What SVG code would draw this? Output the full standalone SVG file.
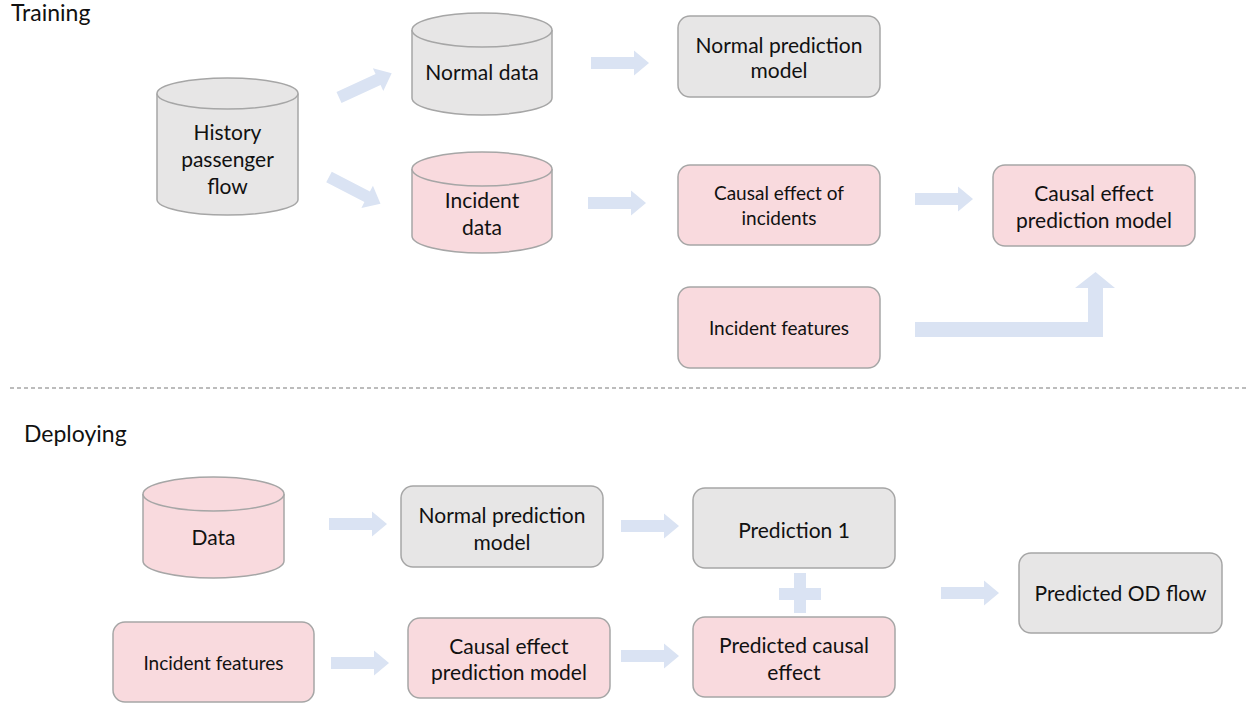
<svg xmlns="http://www.w3.org/2000/svg" xmlns:xlink="http://www.w3.org/1999/xlink" width="1246" height="704" viewBox="0 0 1246 704">
<style>
text{font-family:Lato,"Liberation Sans",sans-serif;fill:#111;text-anchor:middle}
.big{font-size:21px}
.sm{font-size:19px}
.title{font-size:23px;text-anchor:start}
.g{fill:#e7e6e6;stroke:#a6a6a6;stroke-width:1.5}
.p{fill:#f9dade;stroke:#a6a6a6;stroke-width:1.5}
.arr{fill:#dae3f3}
</style>
<defs>
<path id="a" d="M0,-6 H43 V-12.5 L58,0 L43,12.5 V6 H0 Z"/>
</defs>
<rect width="1246" height="704" fill="#fff"/>
<text class="title" x="11" y="21">Training</text>
<text class="title" x="24" y="442">Deploying</text>
<line x1="10" y1="388" x2="1246" y2="388" stroke="#a6a6a6" stroke-width="1.3" stroke-dasharray="4 3"/>

<g id="history">
<path class="g" d="M157,93.5 V199.5 A70.5,15.5 0 0 0 298,199.5 V93.5"/>
<ellipse class="g" cx="227.5" cy="93.5" rx="70.5" ry="15.5"/>
<text class="big" x="227.5" y="140">History</text>
<text class="big" x="227.5" y="167">passenger</text>
<text class="big" x="227.5" y="194">flow</text>
</g>
<g id="normal-data">
<path class="g" d="M412,30 V98 A70,17 0 0 0 552,98 V30"/>
<ellipse class="g" cx="482" cy="30" rx="70" ry="17"/>
<text class="big" x="482" y="79.5">Normal data</text>
</g>
<g id="incident-data">
<path class="p" d="M412,169 V236 A70,17 0 0 0 552,236 V169"/>
<ellipse class="p" cx="482" cy="169" rx="70" ry="17"/>
<text class="big" x="482" y="207.5">Incident</text>
<text class="big" x="482" y="234.5">data</text>
</g>
<g id="normal-model-train">
<rect class="g" x="678" y="16" width="202" height="81" rx="12"/>
<text class="big" x="779" y="52.5">Normal prediction</text>
<text class="big" x="779" y="77.5">model</text>
</g>
<g id="causal-effect-incidents">
<rect class="p" x="678" y="165" width="202" height="80" rx="12"/>
<text class="sm" x="779" y="200">Causal effect of</text>
<text class="sm" x="779" y="225">incidents</text>
</g>
<g id="causal-model-train">
<rect class="p" x="993" y="165" width="202" height="81" rx="12"/>
<text class="big" x="1094" y="200.5">Causal effect</text>
<text class="big" x="1094" y="227.5">prediction model</text>
</g>
<g id="incident-features-train">
<rect class="p" x="678" y="287" width="202" height="81" rx="12"/>
<text class="sm" x="779" y="335">Incident features</text>
</g>

<g id="data">
<path class="p" d="M143,494 V561 A70.5,17 0 0 0 284,561 V494"/>
<ellipse class="p" cx="213.5" cy="494" rx="70.5" ry="17"/>
<text class="big" x="213.5" y="544.5">Data</text>
</g>
<g id="incident-features-deploy">
<rect class="p" x="113" y="622" width="201" height="80" rx="12"/>
<text class="sm" x="213.5" y="670">Incident features</text>
</g>
<g id="normal-model-deploy">
<rect class="g" x="401" y="486" width="202" height="81" rx="12"/>
<text class="big" x="502" y="522.5">Normal prediction</text>
<text class="big" x="502" y="549.5">model</text>
</g>
<g id="causal-model-deploy">
<rect class="p" x="408" y="618" width="202" height="80" rx="12"/>
<text class="big" x="509" y="653.5">Causal effect</text>
<text class="big" x="509" y="679.5">prediction model</text>
</g>
<g id="prediction-1">
<rect class="g" x="693" y="488" width="202" height="80" rx="12"/>
<text class="big" x="794" y="537.5">Prediction 1</text>
</g>
<g id="predicted-causal-effect">
<rect class="p" x="693" y="617" width="202" height="80" rx="12"/>
<text class="big" x="794" y="652.5">Predicted causal</text>
<text class="big" x="794" y="679.5">effect</text>
</g>
<g id="predicted-od-flow">
<rect class="g" x="1019" y="553" width="203" height="80" rx="12"/>
<text class="big" x="1120.5" y="600.5">Predicted OD flow</text>
</g>

<g id="connectors" class="arr">
<use xlink:href="#a" transform="translate(339,97.5) rotate(-24.7)"/>
<use xlink:href="#a" transform="translate(329,177) rotate(27.4)"/>
<use xlink:href="#a" transform="translate(591,63)"/>
<use xlink:href="#a" transform="translate(588,203)"/>
<use xlink:href="#a" transform="translate(915,199)"/>
<path d="M915,322 H1088 V288 H1075 L1095.5,272 L1115,288 H1103 V337 H915 Z"/>
<use xlink:href="#a" transform="translate(329,524)"/>
<use xlink:href="#a" transform="translate(331,663)"/>
<use xlink:href="#a" transform="translate(621,526)"/>
<use xlink:href="#a" transform="translate(621,656)"/>
<use xlink:href="#a" transform="translate(941,593)"/>
<path d="M794,573 H806 V588 H821 V600 H806 V613 H794 V600 H779 V588 H794 Z"/>
</g>
</svg>
